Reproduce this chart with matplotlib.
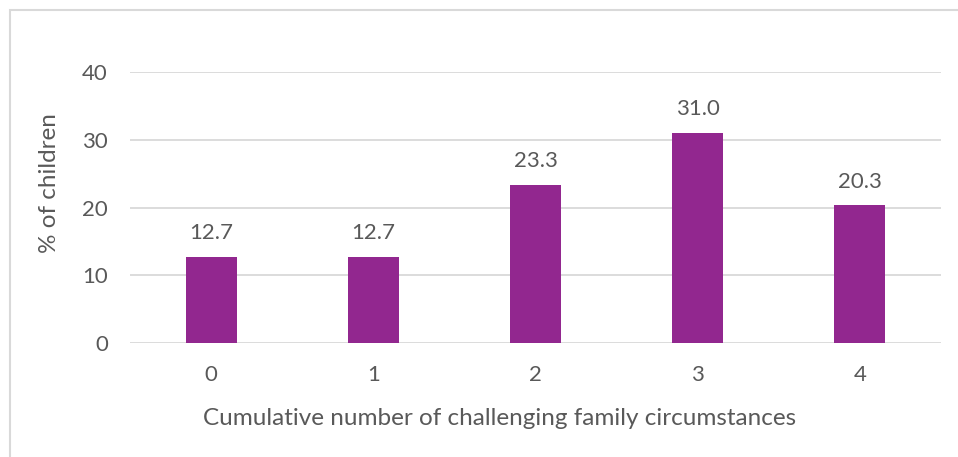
import matplotlib
matplotlib.use("Agg")
import matplotlib.pyplot as plt
from matplotlib.patches import Rectangle

# data
categories = ["0", "1", "2", "3", "4"]
values = [12.7, 12.7, 23.3, 31.0, 20.3]
yticks = [0, 10, 20, 30, 40]

purple = "#92278F"
textgray = "#595959"
gridgray = "#D9D9D9"

plt.rcParams['font.family'] = ['Lato', 'DejaVu Sans']

fig = plt.figure(figsize=(9.58, 4.57), dpi=100)
ax = fig.add_axes([130/958, 114/457, 811/958, 271/457])

x = range(len(categories))
bars = ax.bar(x, values, width=0.315, color=purple, zorder=3)

for b, v in zip(bars, values):
    ax.text(b.get_x() + b.get_width()/2, v + 2.65, "{:.1f}".format(v),
            ha="center", va="baseline", fontsize=16, color=textgray)

ax.set_xlim(-0.5, len(categories) - 0.5)
ax.set_ylim(0, 40)
ax.set_yticks(yticks)
ax.set_xticks(list(x))
ax.set_xticklabels(categories)
ax.grid(axis="y", color=gridgray, linewidth=1.3, zorder=0)
ax.tick_params(axis="both", length=0, labelsize=16, labelcolor=textgray)
ax.tick_params(axis="y", pad=16)
ax.tick_params(axis="x", pad=16)
for s in ax.spines.values():
    s.set_visible(False)

ax.set_xlabel("Cumulative number of challenging family circumstances",
              fontsize=17.5, color=textgray, labelpad=16.5)
ax.set_ylabel("% of children", fontsize=17.5, color=textgray, labelpad=16)
# titles sit off-centre in the original
ax.xaxis.label.set_x(0.4556)
ax.yaxis.label.set_y(0.592)

# outer chart border (top and left visible)
fig.patches.append(Rectangle((10/958, -0.05), 1.1, (457-10)/457 + 0.05,
                             transform=fig.transFigure, fill=False,
                             edgecolor=gridgray, linewidth=1.5))

fig.savefig("out.png", dpi=100)
